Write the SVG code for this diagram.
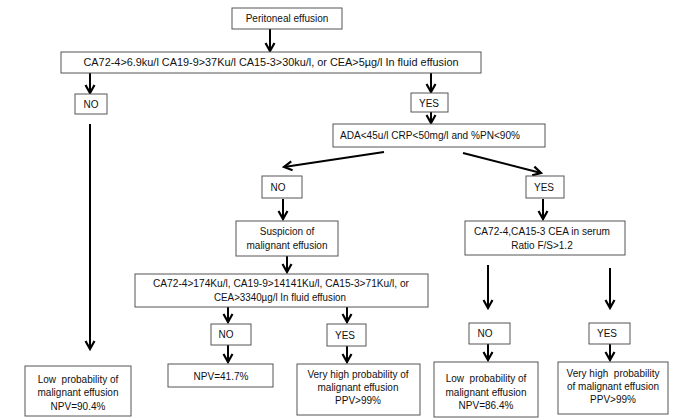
<svg xmlns="http://www.w3.org/2000/svg" width="677" height="420" viewBox="0 0 677 420">
<defs>
<style>
.b{fill:#fff;stroke:#555;stroke-width:1}
.t{font-family:"Liberation Sans",Arial,sans-serif;font-size:10px;fill:#111;text-anchor:middle;white-space:pre}
.c{stroke:#000;stroke-width:2;fill:none;marker-end:url(#ah)}
</style>
<marker id="ah" markerUnits="userSpaceOnUse" markerWidth="12" markerHeight="12" refX="10" refY="6" orient="auto">
<path d="M2,1.5 L10,6 L2,10.5" fill="none" stroke="#000" stroke-width="2.2"/>
</marker>
</defs>
<rect width="677" height="420" fill="#fff"/>
<g id="connectors">
<line class="c" x1="270" y1="29" x2="270" y2="51"/>
<line class="c" x1="90" y1="73" x2="90" y2="93"/>
<line class="c" x1="431" y1="73" x2="431" y2="92"/>
<line class="c" x1="431" y1="112" x2="431" y2="123"/>
<line class="c" x1="90" y1="124" x2="90" y2="349"/>
<line class="c" x1="384" y1="152" x2="284" y2="167"/>
<line class="c" x1="463" y1="153" x2="541" y2="173"/>
<line class="c" x1="283" y1="199" x2="283" y2="219"/>
<line class="c" x1="543" y1="199" x2="543" y2="219"/>
<line class="c" x1="287" y1="256" x2="287" y2="272"/>
<line class="c" x1="228" y1="307" x2="228" y2="322"/>
<line class="c" x1="347" y1="307" x2="347" y2="322"/>
<line class="c" x1="228" y1="345" x2="228" y2="362"/>
<line class="c" x1="347" y1="346" x2="347" y2="362"/>
<line class="c" x1="488" y1="265" x2="488" y2="308"/>
<line class="c" x1="610" y1="268" x2="610" y2="308"/>
<line class="c" x1="488" y1="344" x2="488" y2="360"/>
<line class="c" x1="610" y1="344" x2="610" y2="360"/>
</g>
<g id="n_start"><rect class="b" x="232" y="8" width="110" height="21"/><text class="t" x="287" y="22">Peritoneal effusion</text></g>
<g id="n_test1"><rect class="b" x="61" y="52" width="420" height="21"/><text class="t" x="271" y="66" textLength="375" lengthAdjust="spacingAndGlyphs">CA72-4&gt;6.9ku/l CA19-9&gt;37Ku/l CA15-3&gt;30ku/l, or CEA&gt;5µg/l In fluid effusion</text></g>
<g id="n_no1"><rect class="b" x="75" y="94" width="32" height="20"/><text class="t" x="91" y="108">NO</text></g>
<g id="n_yes1"><rect class="b" x="411" y="93" width="37" height="19"/><text class="t" x="429" y="107">YES</text></g>
<g id="n_ada"><rect class="b" x="333" y="124" width="212" height="23"/><text class="t" x="430" y="139" textLength="180" lengthAdjust="spacingAndGlyphs">ADA&lt;45u/l CRP&lt;50mg/l and %PN&lt;90%</text></g>
<g id="n_no2"><rect class="b" x="262" y="176" width="40" height="22"/><text class="t" x="278" y="191">NO</text></g>
<g id="n_yes2"><rect class="b" x="526" y="176" width="38" height="22"/><text class="t" x="544" y="191">YES</text></g>
<g id="n_susp"><rect class="b" x="236" y="221" width="102" height="35"/><text class="t" x="287" y="235">Suspicion of</text><text class="t" x="287" y="249">malignant effusion</text></g>
<g id="n_serum"><rect class="b" x="465" y="221" width="160" height="34"/><text class="t" x="542" y="235" textLength="136" lengthAdjust="spacingAndGlyphs">CA72-4,CA15-3 CEA in serum</text><text class="t" x="542" y="249">Ratio F/S&gt;1.2</text></g>
<g id="n_test2"><rect class="b" x="135" y="274" width="293" height="33"/><text class="t" x="281" y="287" textLength="256" lengthAdjust="spacingAndGlyphs">CA72-4&gt;174Ku/l, CA19-9&gt;14141Ku/l, CA15-3&gt;71Ku/l, or</text><text class="t" x="280" y="301" textLength="132" lengthAdjust="spacingAndGlyphs">CEA&gt;3340µg/l In fluid effusion</text></g>
<g id="n_no3"><rect class="b" x="211" y="324" width="40" height="21"/><text class="t" x="226" y="338">NO</text></g>
<g id="n_yes3"><rect class="b" x="327" y="324" width="39" height="22"/><text class="t" x="345" y="339">YES</text></g>
<g id="n_no4"><rect class="b" x="469" y="323" width="41" height="21"/><text class="t" x="485" y="337">NO</text></g>
<g id="n_yes4"><rect class="b" x="589" y="323" width="41" height="21"/><text class="t" x="607" y="337">YES</text></g>
<g id="n_low1"><rect class="b" x="25" y="366" width="106" height="50"/><text class="t" x="78" y="383">Low  probability of</text><text class="t" x="78" y="396">malignant effusion</text><text class="t" x="78" y="410">NPV=90.4%</text></g>
<g id="n_npv"><rect class="b" x="168" y="364" width="105" height="23"/><text class="t" x="221" y="380">NPV=41.7%</text></g>
<g id="n_high1"><rect class="b" x="297" y="364" width="123" height="51"/><text class="t" x="358" y="378">Very high probability of</text><text class="t" x="358" y="391">malignant effusion</text><text class="t" x="358" y="404">PPV&gt;99%</text></g>
<g id="n_low2"><rect class="b" x="434" y="362" width="104" height="55"/><text class="t" x="486" y="382">Low  probability of</text><text class="t" x="486" y="396">malignant effusion</text><text class="t" x="486" y="409">NPV=86.4%</text></g>
<g id="n_high2"><rect class="b" x="558" y="362" width="110" height="52"/><text class="t" x="613" y="377">Very high  probability</text><text class="t" x="613" y="390">of malignant effusion</text><text class="t" x="613" y="403">PPV&gt;99%</text></g>
</svg>
